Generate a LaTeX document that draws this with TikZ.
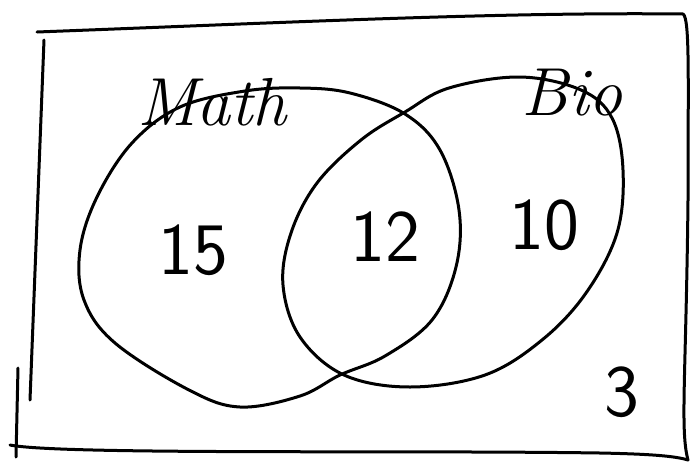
\documentclass[tikz,border=0pt]{standalone}
\begin{document}
\begin{tikzpicture}[x=1pt,y=-1pt,
  pen/.style={line width=3pt, black, line cap=round, line join=round},
  numlabel/.style={font=\fontsize{74}{74}\selectfont\sffamily},
  setlabel/.style={font=\fontsize{68}{68}\selectfont\itshape}]
\useasboundingbox (0,0) rectangle (690,466);
% universe box
\coordinate (tl) at (37,32);
\coordinate (tr) at (683,14);
\coordinate (rb) at (688,460);
\coordinate (lt) at (44,40);
\coordinate (lb) at (30,400);
\coordinate (bl) at (10,445);
\coordinate (t1) at (18,368);
\coordinate (t2) at (16,457);
\draw[pen] (tl) .. controls (300,22) and (500,12) .. (tr) .. controls (690,18) and (688,80) .. (688,200) .. controls (686,380) and (680,430) .. (rb);
\draw[pen] (lt) -- (lb);
\draw[pen] (t1) -- (t2);
\draw[pen] (bl) .. controls (60,455) and (400,450) .. (600,453) .. controls (650,454) and (675,456) .. (rb);
% sets
\draw[pen] plot[smooth cycle, tension=0.6] coordinates {
  (300,88) (350,93) (405,114) (440,150) (459,210) (456,267) (432,320)
  (385,356) (340,375) (300,396) (240,407) (189,390) (115,343) (84,300)
  (80,250) (97,197) (132,143) (180,107) (245,91)};
\draw[pen] plot[smooth cycle, tension=0.6] coordinates {
  (520,77) (581,90) (612,118) (623,170) (617,233) (586,293) (542,340)
  (485,375) (410,387) (344,375) (300,337) (283,285) (291,233) (317,183)
  (361,140) (405,112) (449,88)};
% labels
\node[setlabel] (mlab) at (212,102) {Math};
\node[setlabel] (blab) at (572,93) {Bio};
\node[numlabel] (a) at (193,250) {15};
\node[numlabel] (b) at (385,237) {12};
\node[numlabel] (c) at (544,225) {10};
\node[numlabel] (d) at (622,392) {3};
\end{tikzpicture}
\end{document}
